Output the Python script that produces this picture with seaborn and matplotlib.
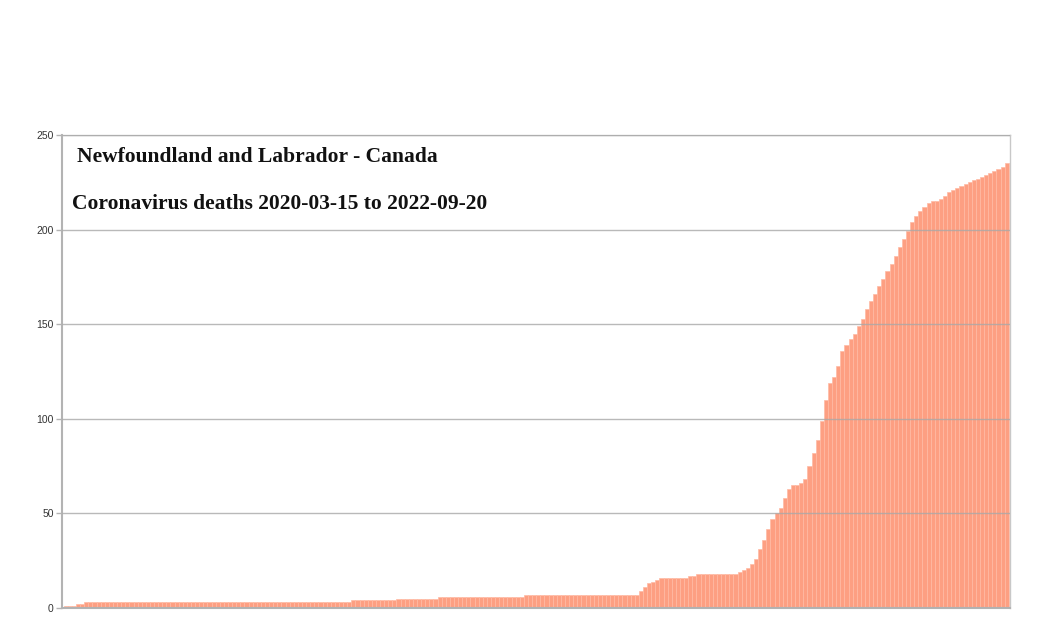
# Newfoundland and Labrador - cumulative coronavirus deaths (bar chart)

import numpy as np
import pandas as pd
import matplotlib
matplotlib.use("Agg")
import matplotlib.pyplot as plt
import seaborn as sns

# cumulative deaths, one bar per ~4 days, 2020-03-15 .. 2022-09-20
deaths = [
    1, 1, 1, 2, 2, 3, 3, 3, 3, 3, 3, 3, 3, 3, 3, 3, 3, 3, 3, 3,
    3, 3, 3, 3, 3, 3, 3, 3, 3, 3, 3, 3, 3, 3, 3, 3, 3, 3, 3, 3,
    3, 3, 3, 3, 3, 3, 3, 3, 3, 3, 3, 3, 3, 3, 3, 3, 3, 3, 3, 3,
    3, 3, 3, 3, 3, 3, 3, 3, 3, 3, 4, 4, 4, 4, 4, 4, 4, 4, 4, 4,
    4, 5, 5, 5, 5, 5, 5, 5, 5, 5, 5, 6, 6, 6, 6, 6, 6, 6, 6, 6,
    6, 6, 6, 6, 6, 6, 6, 6, 6, 6, 6, 6, 7, 7, 7, 7, 7, 7, 7, 7,
    7, 7, 7, 7, 7, 7, 7, 7, 7, 7, 7, 7, 7, 7, 7, 7, 7, 7, 7, 7,
    9, 11, 13, 14, 15, 16, 16, 16, 16, 16, 16, 16, 17, 17, 18, 18, 18, 18, 18, 18,
    18, 18, 18, 18, 19, 20, 21, 23, 26, 31, 36, 42, 47, 50, 53, 58, 63, 65, 65, 66,
    68, 75, 82, 89, 99, 110, 119, 122, 128, 136, 139, 142, 145, 149, 153, 158, 162, 166, 170, 174,
    178, 182, 186, 191, 195, 199, 204, 207, 210, 212, 214, 215, 215, 216, 218, 220, 221, 222, 223, 224,
    225, 226, 227, 228, 229, 230, 231, 232, 233, 235,
]
period = list(range(len(deaths)))
y_ticks = [0, 50, 100, 150, 200, 250]

title_line1 = "Newfoundland and Labrador - Canada"
title_line2 = "Coronavirus deaths 2020-03-15 to 2022-09-20"

df = pd.DataFrame({"period": period, "deaths": deaths})

sns.set_style("white")
plt.rcParams['font.family'] = ['Liberation Sans', 'DejaVu Sans']

fig = plt.figure(figsize=(10.38, 6.31), dpi=100)
ax = fig.add_axes([62 / 1038, 23 / 631, 948 / 1038, 473 / 631])

sns.barplot(data=df, x="period", y="deaths", color="#fd9f82", saturation=1,
            width=1.0, linewidth=0.5, edgecolor="#ffbaa4", ax=ax)

ax.set_xlim(-0.9, len(deaths) - 0.2)
ax.set_ylim(0, 250)
ax.set_yticks(y_ticks)
ax.set_yticklabels([str(v) for v in y_ticks], fontsize=7.5, color="#333333")
ax.set_xticks([])
ax.set_xlabel("")
ax.set_ylabel("")
ax.tick_params(axis="y", length=4, width=1, color="#b3b3b3", pad=2, left=True)

ax.yaxis.grid(True, color="#a8a8a8", linewidth=1)
ax.set_axisbelow(False)
for line in ax.get_ygridlines():
    line.set_zorder(3)
    line.set_alpha(0.8)

for side in ["left", "bottom"]:
    ax.spines[side].set_color("#b3b3b3")
    ax.spines[side].set_linewidth(1.5)
for side in ["top", "right"]:
    ax.spines[side].set_color("#c8c8c8")
    ax.spines[side].set_linewidth(1)

ax.text(0.016, 0.953, title_line1, transform=ax.transAxes, fontsize=15.5,
        family="Liberation Serif", fontweight="bold", color="#111111", va="center")
ax.text(0.011, 0.855, title_line2, transform=ax.transAxes, fontsize=15.5,
        family="Liberation Serif", fontweight="bold", color="#111111", va="center")

fig.savefig("out.png", dpi=100)
